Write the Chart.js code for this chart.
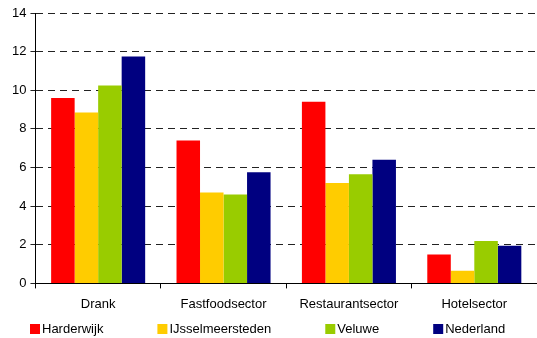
<!DOCTYPE html>
<html>
<head>
<meta charset="utf-8">
<script src="https://cdn.jsdelivr.net/npm/chart.js@4"></script>
<style>
  body { margin: 0; background: #fff; }
  #wrap { width: 537px; height: 338px; }
</style>
</head>
<body>
<div id="wrap"><canvas id="grafiek"></canvas></div>
<script>
// categorieën en waarden per regio
const categorieen = ['Drank', 'Fastfoodsector', 'Restaurantsector', 'Hotelsector'];
const harderwijk = [9.6, 7.4, 9.4, 1.5];
const ijsselmeersteden = [8.85, 4.7, 5.2, 0.65];
const veluwe = [10.25, 4.6, 5.65, 2.2];
const nederland = [11.75, 5.75, 6.4, 1.95];
const yTicks = [0, 2, 4, 6, 8, 10, 12, 14];

const font = { family: 'Liberation Sans, Arial, sans-serif', size: 13 };

// legenda onderaan, items met vaste tussenruimte zoals in Excel
const legendaOnder = {
  id: 'legendaOnder',
  afterDraw(chart) {
    const ctx = chart.ctx;
    ctx.save();
    ctx.font = `${font.size}px ${font.family}`;
    ctx.textBaseline = 'middle';
    let x = 30;
    const y = 329;
    chart.data.datasets.forEach(ds => {
      ctx.fillStyle = ds.backgroundColor;
      ctx.fillRect(x, y - 5, 10, 10);
      ctx.fillStyle = '#000';
      ctx.fillText(ds.label, x + 12, y);
      x += 12 + ctx.measureText(ds.label).width + 54;
    });
    ctx.restore();
  }
};

new Chart(document.getElementById('grafiek').getContext('2d'), {
  type: 'bar',
  data: {
    labels: categorieen,
    datasets: [
      { label: 'Harderwijk', data: harderwijk, backgroundColor: '#FF0000' },
      { label: 'IJsselmeersteden', data: ijsselmeersteden, backgroundColor: '#FFCC00' },
      { label: 'Veluwe', data: veluwe, backgroundColor: '#99CC00' },
      { label: 'Nederland', data: nederland, backgroundColor: '#000080' }
    ]
  },
  plugins: [legendaOnder],
  options: {
    responsive: true,
    maintainAspectRatio: false,
    animation: false,
    datasets: { bar: { barPercentage: 1, categoryPercentage: 0.75 } },
    layout: { padding: { top: 13, right: 0, left: 8, bottom: 18 } },
    plugins: {
      tooltip: { enabled: false },
      legend: { display: false }
    },
    scales: {
      x: {
        grid: { display: true, drawOnChartArea: false, offset: true, tickLength: 5, color: '#000' },
        border: { color: '#000', width: 1 },
        ticks: { font: font, color: '#000', padding: 8 }
      },
      y: {
        min: 0,
        max: 14,
        afterBuildTicks: axis => { axis.ticks = yTicks.map(v => ({ value: v })); },
        grid: { color: '#222', tickLength: 5, drawTicks: true },
        border: { color: '#000', width: 1, dash: [7, 5] },
        ticks: { font: font, color: '#000', padding: 4 }
      }
    }
  }
});
</script>
</body>
</html>
